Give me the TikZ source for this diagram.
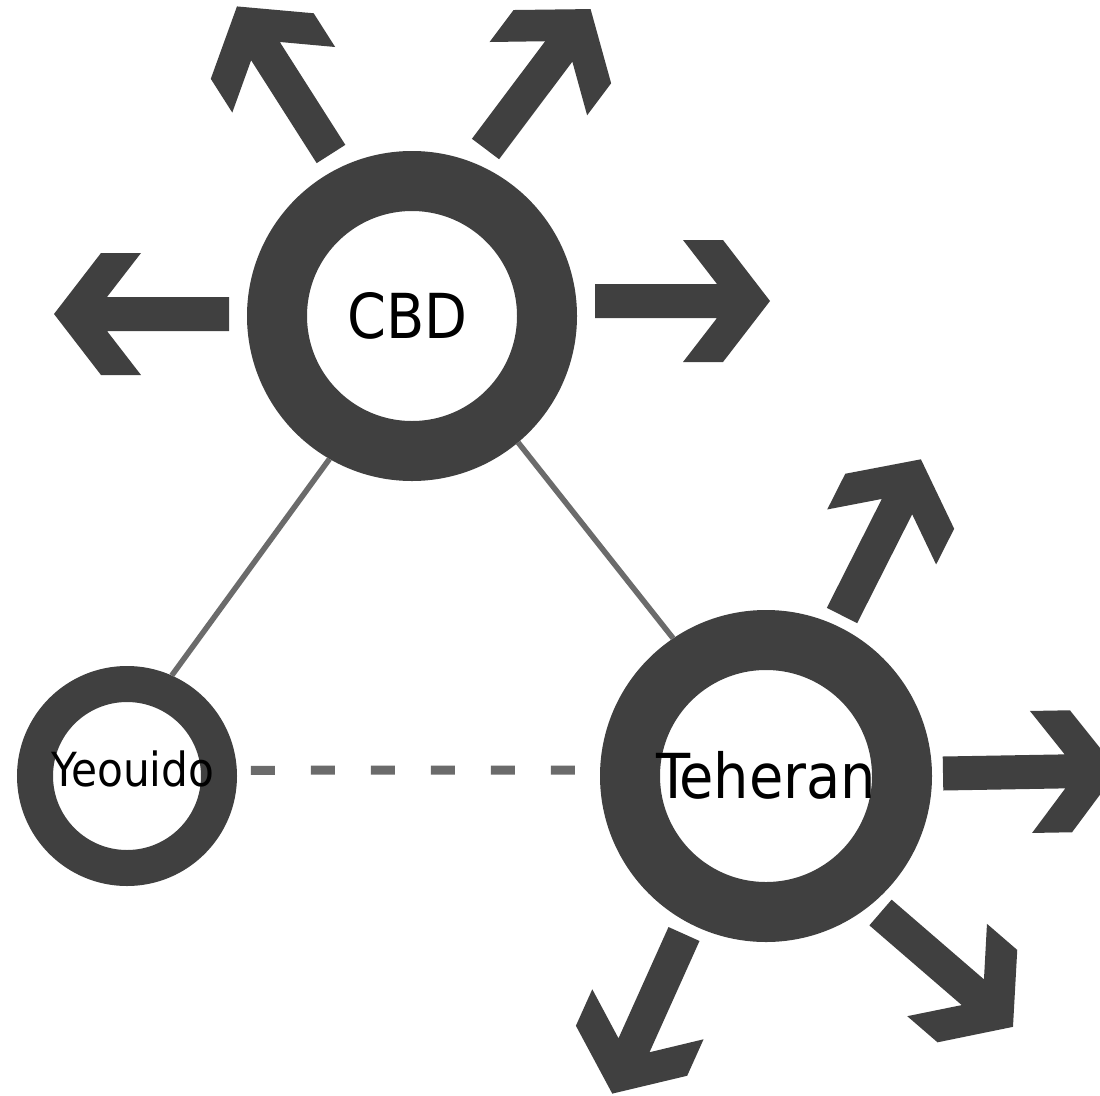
\documentclass[tikz,border=0pt]{standalone}
\usepackage{fontspec}
\setmainfont{DejaVu Sans Condensed}

\definecolor{ringgray}{HTML}{404040}
\definecolor{linkgray}{HTML}{6B6B6B}

\tikzstyle{hub}=[circle, draw=ringgray, fill=white, inner sep=0pt, text=black]
\tikzstyle{link}=[draw=linkgray, line width=5.5pt]
\tikzset{outarrow/.pic={\fill[ringgray] (0,17) -- (122,17) -- (88,61) -- (128,61) -- (175,0) -- (128,-61) -- (88,-61) -- (122,-17) -- (0,-17) -- cycle;}}

\begin{document}
\begin{tikzpicture}[x=1pt, y=1pt]
\path[use as bounding box, fill=white] (0,0) rectangle (1100,-1095);
\node[hub, line width=60pt, outer sep=30pt, minimum size=270pt] (CBD)     at (412,-316) {\fontsize{62}{62}\selectfont CBD\hspace*{9pt}};
\node[hub, line width=36pt, outer sep=18pt, minimum size=184pt, text depth=15pt] (Yeouido) at (127,-776) {\fontsize{47}{47}\selectfont\hspace*{12pt}Yeouido};
\node[hub, line width=60pt, outer sep=30pt, minimum size=272pt, text depth=3pt] (Teheran) at (766,-776) {\fontsize{62}{62}\selectfont Teheran};
\draw[link] (CBD.240) -- (Yeouido.66);
\draw[link] (CBD.-50) -- (Teheran.124);
\draw[link, line width=9pt, dash pattern=on 24pt off 36pt, dash phase=46pt] (Yeouido.3) -- (Teheran.178);
% arrows out of CBD
\pic[rotate=180]   at (229,-314)   {outarrow};
\pic[rotate=0]     at (595,-301)   {outarrow};
\pic[rotate=122.5] at (331,-154)   {outarrow};
\pic[rotate=53.1]  at (485.5,-149) {outarrow};
% arrows out of Teheran
\pic[rotate=63.2]   at (842,-615.5)   {outarrow};
\pic[rotate=1]      at (943,-773.5)   {outarrow};
\pic[rotate=-40.8]  at (880.5,-912.5) {outarrow};
\pic[rotate=-114.2] at (684,-934)     {outarrow};
\end{tikzpicture}
\end{document}
